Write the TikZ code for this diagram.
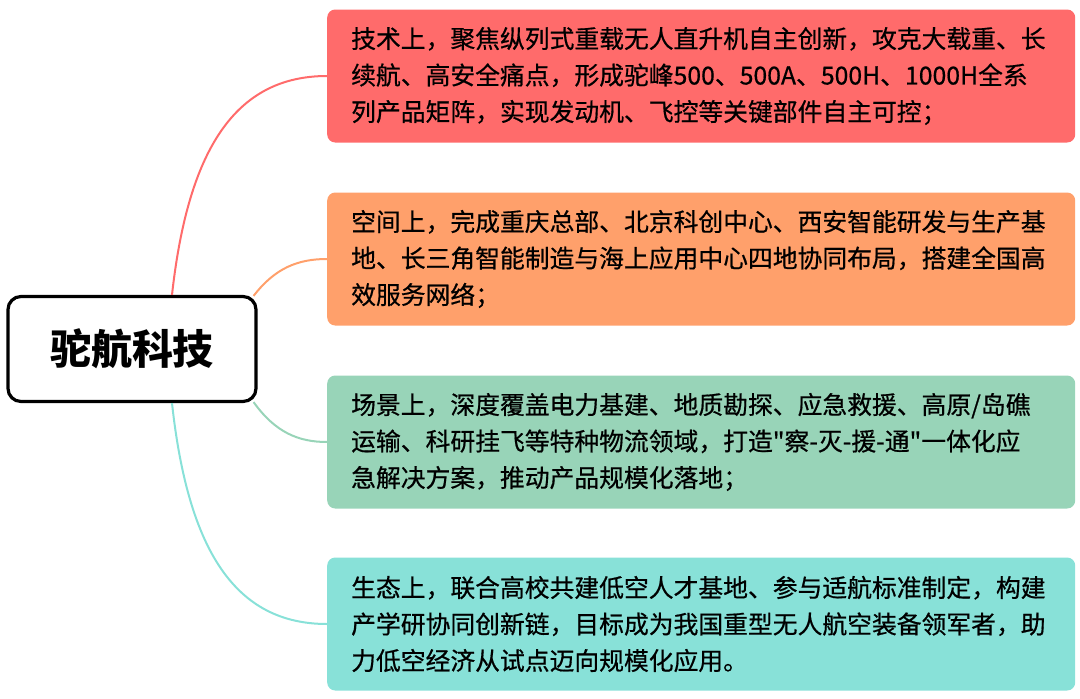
\documentclass[tikz,border=0pt]{standalone}
\usepackage{fontspec}
\setmainfont{Noto Sans CJK SC}
\newfontfamily\leaffont{Noto Sans CJK SC}[FakeBold=0.6]
\usetikzlibrary{calc}
\definecolor{cred}{RGB}{255,107,107}
\definecolor{corange}{RGB}{255,160,107}
\definecolor{cgreen}{RGB}{152,212,184}
\definecolor{ccyan}{RGB}{136,225,216}
\tikzset{
  leaf/.style={rounded corners=8pt, minimum width=746pt, minimum height=133pt,
    text width=700pt, inner xsep=24pt, align=left, anchor=west,
    font=\leaffont\fontsize{24.8}{36.5}\selectfont},
  link/.style={line width=2pt},
}
\begin{document}
\begin{tikzpicture}[x=1pt,y=-1pt]
\useasboundingbox (0,0) rectangle (1080,699);
\node[leaf, fill=cred] (b1) at (327,76) {技术上，聚焦纵列式重载无人直升机自主创新，攻克大载重、长\\续航、高安全痛点，形成驼峰500、500A、500H、1000H全系\\列产品矩阵，实现发动机、飞控等关键部件自主可控；};
\node[leaf, fill=corange] (b2) at (327,259) {空间上，完成重庆总部、北京科创中心、西安智能研发与生产基\\地、长三角智能制造与海上应用中心四地协同布局，搭建全国高\\效服务网络；};
\node[leaf, fill=cgreen] (b3) at (327,442) {场景上，深度覆盖电力基建、地质勘探、应急救援、高原/岛礁\\运输、科研挂飞等特种物流领域，打造"察-灭-援-通"一体化应\\急解决方案，推动产品规模化落地；};
\node[leaf, fill=ccyan] (b4) at (327,624) {生态上，联合高校共建低空人才基地、参与适航标准制定，构建\\产学研协同创新链，目标成为我国重型无人航空装备领军者，助\\力低空经济从试点迈向规模化应用。};
\node[draw=black, line width=3.2pt, rounded corners=13pt, minimum width=248pt, minimum height=105pt,
  fill=white, font=\fontsize{41}{44}\selectfont\bfseries] (c) at (132,349) {驼航科技};
\draw[link, cred] ($(c.north)+(40,0)$) .. controls (188,150) and (235,76) .. (b1.west);
\draw[link, corange] ($(c.north east)+(-4,1)$) .. controls (275,268) and (298,259) .. (b2.west);
\draw[link, cgreen] ($(c.south east)+(-4,-1)$) .. controls (275,432) and (298,442) .. (b3.west);
\draw[link, ccyan] ($(c.south)+(40,0)$) .. controls (188,550) and (235,624) .. (b4.west);
\end{tikzpicture}
\end{document}
